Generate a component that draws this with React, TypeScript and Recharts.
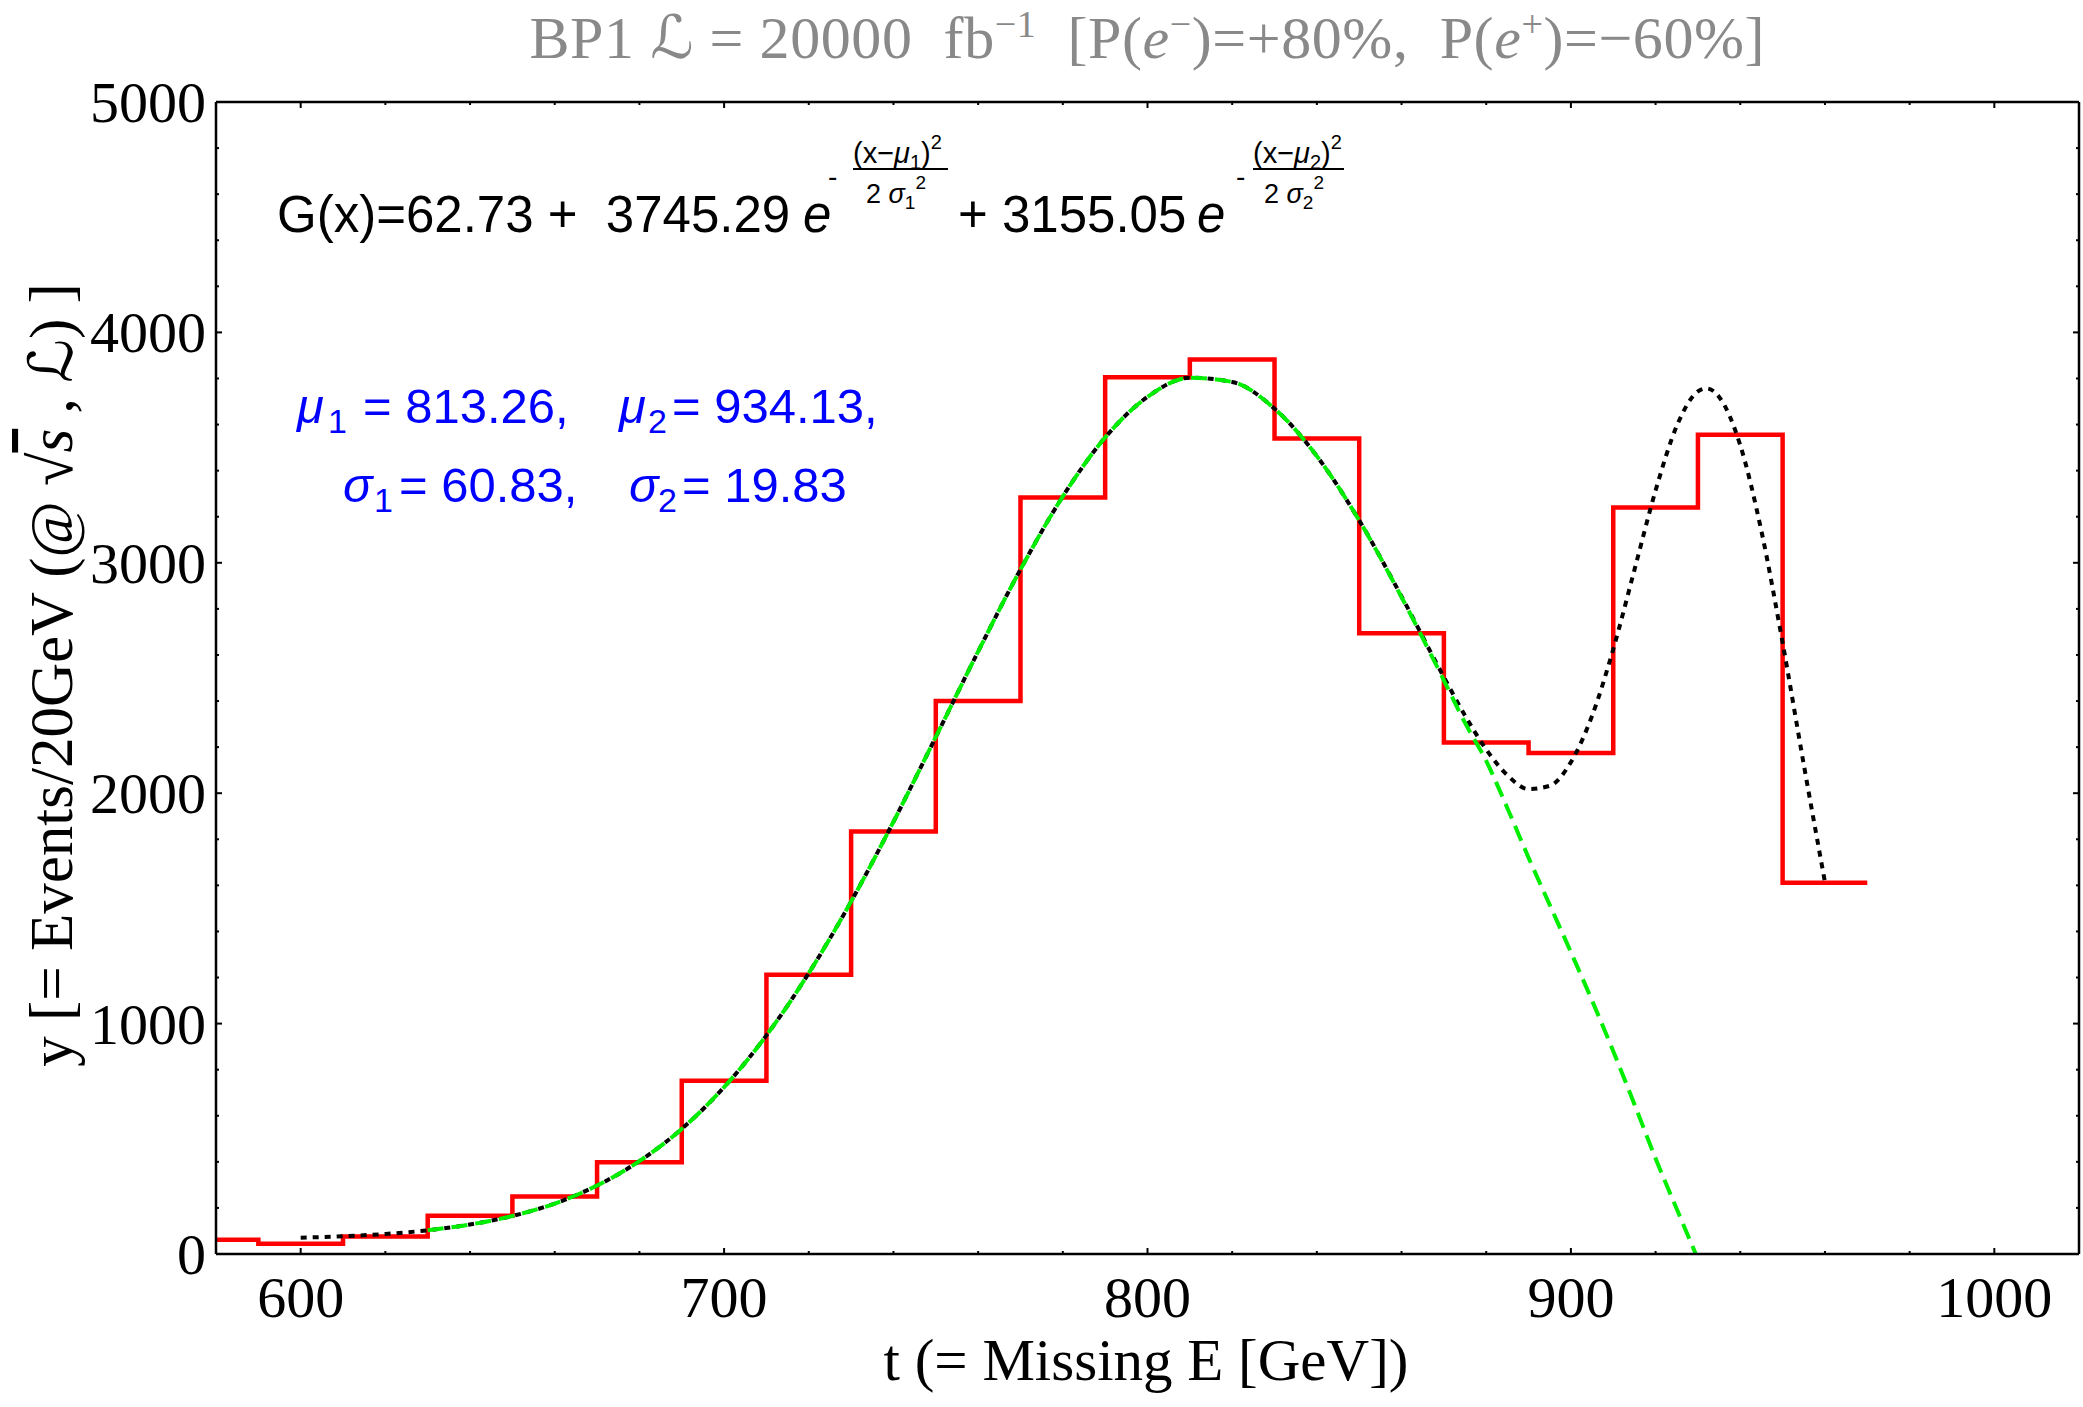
import { ComposedChart, Line, XAxis, YAxis } from "recharts";

const SERIF = "'Liberation Serif', 'Times New Roman', serif";
const SANS = "'Liberation Sans', Arial, sans-serif";
const SCRIPT_L = "'DejaVu Serif', 'DejaVu Sans', serif";
const SP = "\u00a0";

// histogram, 20 GeV bins (first one clipped by the frame)
const BIN_EDGES = [580, 590, 610, 630, 650, 670, 690, 710, 730, 750, 770, 790, 810, 830, 850, 870, 890, 910, 930, 950, 970];
const BIN_COUNTS = [62, 45, 76, 166, 250, 398, 752, 1212, 1834, 2400, 3283, 3805, 3882, 3539, 2694, 2220, 2174, 3240, 3556, 1611];

// double gaussian fit (black dotted)
const FIT_X = [600, 610, 620, 630, 640, 650, 660, 670, 680, 690, 700, 710, 720, 730, 740, 750, 760, 770, 780, 790, 800, 810, 820, 830, 840, 850, 860, 870, 875, 880, 885, 890, 895, 900, 905, 910, 915, 920, 925, 930, 932, 935, 940, 945, 950, 955, 960];
const FIT_Y = [71, 77, 87, 103, 128, 165, 219, 297, 403, 543, 724, 949, 1219, 1530, 1876, 2244, 2615, 2971, 3288, 3544, 3720, 3803, 3785, 3669, 3463, 3184, 2854, 2504, 2337, 2190, 2078, 2018, 2032, 2135, 2336, 2625, 2969, 3314, 3594, 3744, 3757, 3720, 3510, 3137, 2653, 2124, 1614];

// single peak curve (green dashed)
const PEAK_X = [630, 640, 650, 660, 670, 680, 690, 700, 710, 720, 730, 740, 750, 760, 770, 780, 790, 800, 810, 820, 830, 840, 850, 860, 870, 875, 880, 885, 890, 895, 900, 905, 910, 915, 920, 925, 929.5];
const PEAK_Y = [103, 128, 165, 219, 297, 403, 543, 724, 949, 1219, 1530, 1876, 2244, 2615, 2971, 3288, 3544, 3720, 3803, 3785, 3669, 3463, 3184, 2851, 2490, 2305, 2140, 1935, 1720, 1515, 1310, 1100, 880, 650, 415, 195, 0];

const X_TICKS = [600, 620, 640, 660, 680, 700, 720, 740, 760, 780, 800, 820, 840, 860, 880, 900, 920, 940, 960, 980, 1000];
const X_LABELS = [600, 700, 800, 900, 1000];
const Y_TICKS = [0, 200, 400, 600, 800, 1000, 1200, 1400, 1600, 1800, 2000, 2200, 2400, 2600, 2800, 3000, 3200, 3400, 3600, 3800, 4000, 4200, 4400, 4600, 4800, 5000];
const Y_LABELS = [0, 1000, 2000, 3000, 4000, 5000];

const histData = BIN_EDGES.map((x, i) => ({ x, y: BIN_COUNTS[Math.min(i, BIN_COUNTS.length - 1)] }));
const fitData = FIT_X.map((x, i) => ({ x, y: FIT_Y[i] }));
const peakData = PEAK_X.map((x, i) => ({ x, y: PEAK_Y[i] }));

const AXIS_LINE = { stroke: "#000", strokeWidth: 2.5 };

function BottomTick(props: any) {
  const { x, y, payload } = props;
  const major = X_LABELS.includes(payload.value);
  return (
    <g>
      <line x1={x} x2={x} y1={y} y2={y - (major ? 6 : 3)} stroke="#000" strokeWidth={2} />
      {major && (
        <text x={x} y={y + 63} textAnchor="middle" fontFamily={SERIF} fontSize={58} fill="#000">
          {payload.value}
        </text>
      )}
    </g>
  );
}

function TopTick(props: any) {
  const { x, y, payload } = props;
  const major = X_LABELS.includes(payload.value);
  return <line x1={x} x2={x} y1={y} y2={y + (major ? 6 : 3)} stroke="#000" strokeWidth={2} />;
}

function LeftTick(props: any) {
  const { x, y, payload } = props;
  const major = Y_LABELS.includes(payload.value);
  return (
    <g>
      <line x1={x} x2={x + (major ? 6 : 3)} y1={y} y2={y} stroke="#000" strokeWidth={2} />
      {major && (
        <text x={x - 10} y={y + 20} textAnchor="end" fontFamily={SERIF} fontSize={58} fill="#000">
          {payload.value}
        </text>
      )}
    </g>
  );
}

function RightTick(props: any) {
  const { x, y, payload } = props;
  const major = Y_LABELS.includes(payload.value);
  return <line x1={x} x2={x - (major ? 6 : 3)} y1={y} y2={y} stroke="#000" strokeWidth={2} />;
}

function Annotations() {
  return (
    <svg
      width={2083}
      height={1407}
      style={{ position: "absolute", left: 0, top: 0, pointerEvents: "none" }}
    >
      {/* title */}
      <text
        x={1147}
        y={58}
        textAnchor="middle"
        fontFamily={SERIF}
        fontSize={60}
        fill="#898989"
        textLength={1235}
        lengthAdjust="spacing"
      >
        {`BP1${SP}`}
        <tspan fontStyle="italic" fontFamily={SCRIPT_L}>ℒ</tspan>
        {`${SP}=${SP}20000${SP}${SP}fb`}
        <tspan fontSize={38} dy={-21}>−1</tspan>
        <tspan dy={21}>{`${SP}${SP}[P(`}</tspan>
        <tspan fontStyle="italic">e</tspan>
        <tspan fontSize={38} dy={-21}>−</tspan>
        <tspan dy={21}>{`)=+80%,${SP}${SP}P(`}</tspan>
        <tspan fontStyle="italic">e</tspan>
        <tspan fontSize={38} dy={-21}>+</tspan>
        <tspan dy={21}>)=−60%]</tspan>
      </text>

      {/* fit formula */}
      <g fontFamily={SANS} fill="#000">
        <text x={277} y={232} fontSize={51}>{`G(x)=62.73${SP}+${SP}${SP}3745.29`}</text>
        <text x={803} y={232} fontSize={51} fontStyle="italic">e</text>
        <text x={828} y={186} fontSize={28}>-</text>
        <text x={853} y={163} fontSize={29}>
          (x−<tspan fontStyle="italic">μ</tspan>
          <tspan fontSize={20} dy={6}>1</tspan>
          <tspan dy={-6}>)</tspan>
          <tspan fontSize={20} dy={-14}>2</tspan>
        </text>
        <line x1={853} x2={948} y1={169} y2={169} stroke="#000" strokeWidth={2} />
        <text x={866} y={203} fontSize={27}>
          {`2${SP}`}
          <tspan fontStyle="italic">σ</tspan>
          <tspan fontSize={19} dy={6}>1</tspan>
          <tspan fontSize={19} dy={-20}>2</tspan>
        </text>
        <text x={958} y={232} fontSize={51}>{`+${SP}3155.05`}</text>
        <text x={1197} y={232} fontSize={51} fontStyle="italic">e</text>
        <text x={1236} y={186} fontSize={28}>-</text>
        <text x={1253} y={163} fontSize={29}>
          (x−<tspan fontStyle="italic">μ</tspan>
          <tspan fontSize={20} dy={6}>2</tspan>
          <tspan dy={-6}>)</tspan>
          <tspan fontSize={20} dy={-14}>2</tspan>
        </text>
        <line x1={1253} x2={1344} y1={169} y2={169} stroke="#000" strokeWidth={2} />
        <text x={1264} y={203} fontSize={27}>
          {`2${SP}`}
          <tspan fontStyle="italic">σ</tspan>
          <tspan fontSize={19} dy={6}>2</tspan>
          <tspan fontSize={19} dy={-20}>2</tspan>
        </text>
      </g>

      {/* fit parameters */}
      <g fontFamily={SANS} fill="#0000ff" fontSize={49}>
        <text x={297} y={423} fontStyle="italic">μ</text>
        <text x={328} y={433} fontSize={34}>1</text>
        <text x={363} y={423}>= 813.26,</text>
        <text x={619} y={423} fontStyle="italic">μ</text>
        <text x={648} y={433} fontSize={34}>2</text>
        <text x={672} y={423}>= 934.13,</text>
        <text x={343} y={502} fontStyle="italic">σ</text>
        <text x={374} y={512} fontSize={34}>1</text>
        <text x={399} y={502}>= 60.83,</text>
        <text x={629} y={502} fontStyle="italic">σ</text>
        <text x={658} y={512} fontSize={34}>2</text>
        <text x={682} y={502}>= 19.83</text>
      </g>

      {/* axis labels */}
      <text x={1146} y={1380} textAnchor="middle" fontFamily={SERIF} fontSize={59} fill="#000">
        t (= Missing E [GeV])
      </text>
      <text
        transform="rotate(-90)"
        x={-675}
        y={72}
        textAnchor="middle"
        fontFamily={SERIF}
        fontSize={61}
        fill="#000"
      >
        y [= Events/20GeV (@ √
        <tspan fontStyle="italic" textDecoration="overline">s</tspan>
        {`${SP},${SP}`}
        <tspan fontStyle="italic" fontFamily={SCRIPT_L}>ℒ</tspan>
        {`)${SP}]`}
      </text>
    </svg>
  );
}

export default function App() {
  return (
    <div style={{ position: "relative", width: 2083, height: 1407, background: "#fff" }}>
      <style>{`body { margin: 0; }`}</style>
      <ComposedChart width={2083} height={1407} margin={{ top: 100, right: 2, bottom: 53, left: 66 }}>
        <XAxis
          type="number"
          dataKey="x"
          domain={[580, 1020]}
          ticks={X_TICKS}
          interval={0}
          allowDataOverflow
          height={100}
          tickSize={0}
          tickMargin={0}
          tickLine={false}
          axisLine={AXIS_LINE}
          tick={<BottomTick />}
        />
        <XAxis
          xAxisId="top"
          orientation="top"
          type="number"
          dataKey="x"
          domain={[580, 1020]}
          ticks={X_TICKS}
          interval={0}
          allowDataOverflow
          height={2}
          tickSize={0}
          tickMargin={0}
          tickLine={false}
          axisLine={AXIS_LINE}
          tick={<TopTick />}
        />
        <YAxis
          type="number"
          domain={[0, 5000]}
          ticks={Y_TICKS}
          interval={0}
          allowDataOverflow
          width={150}
          tickSize={0}
          tickMargin={0}
          tickLine={false}
          axisLine={AXIS_LINE}
          tick={<LeftTick />}
        />
        <YAxis
          yAxisId="right"
          orientation="right"
          type="number"
          domain={[0, 5000]}
          ticks={Y_TICKS}
          interval={0}
          allowDataOverflow
          width={2}
          tickSize={0}
          tickMargin={0}
          tickLine={false}
          axisLine={AXIS_LINE}
          tick={<RightTick />}
        />
        <Line
          data={histData}
          dataKey="y"
          type="stepAfter"
          stroke="#ff0000"
          strokeWidth={4.5}
          dot={false}
          isAnimationActive={false}
        />
        <Line
          data={fitData}
          dataKey="y"
          type="monotone"
          stroke="#000"
          strokeWidth={4}
          strokeDasharray="6 6"
          dot={false}
          isAnimationActive={false}
        />
        <Line
          data={peakData}
          dataKey="y"
          type="monotone"
          stroke="#00ee00"
          strokeWidth={4}
          strokeDasharray="16 8"
          dot={false}
          isAnimationActive={false}
        />
      </ComposedChart>
      <Annotations />
    </div>
  );
}
